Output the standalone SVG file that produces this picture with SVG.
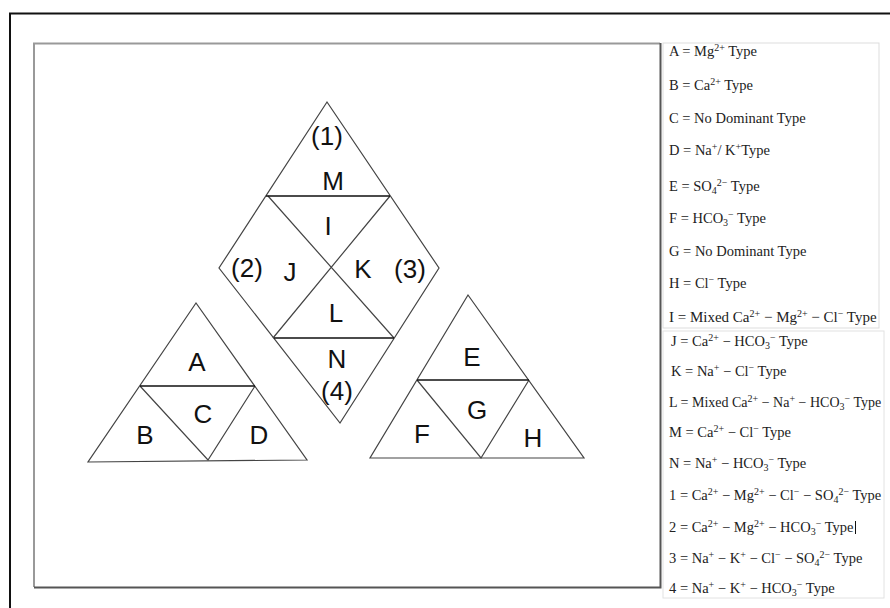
<svg xmlns="http://www.w3.org/2000/svg" width="890" height="608" viewBox="0 0 890 608">
<style>
.edge{fill:none;stroke:#444;stroke-width:1.2;stroke-linejoin:miter}
.bar{fill:none;stroke:#111;stroke-width:1.6}
.lab{font-family:"Liberation Sans",Arial,sans-serif;font-size:26px;fill:#111;text-anchor:middle}
.lg{font-family:"Liberation Serif","Times New Roman",serif;font-size:14.5px;fill:#222}
.s{font-size:10px}
</style>
<rect x="0" y="0" width="890" height="608" fill="#fff"/>
<g id="frame">
<path d="M10,608 V13.5 H890" fill="none" stroke="#111" stroke-width="2"/>
<path d="M34,587 V43.5 H660" fill="none" stroke="#999" stroke-width="2"/>
<path d="M34,587.5 H660.5 V43" fill="none" stroke="#555" stroke-width="2"/>
</g>
<g id="diamond">
<path class="edge" d="M327,102 L219,268 L340,423 L439,268 Z"/>
<path class="edge" d="M268,196 L394,338 M390,196 L273,338"/>
<path class="bar" d="M266,196 H390 M274,338 H394"/>
<text class="lab" x="327" y="145">(1)</text>
<text class="lab" x="333" y="190">M</text>
<text class="lab" x="328" y="235">I</text>
<text class="lab" x="247" y="277">(2)</text>
<text class="lab" x="290" y="281">J</text>
<text class="lab" x="363" y="278">K</text>
<text class="lab" x="410" y="278">(3)</text>
<text class="lab" x="336" y="322">L</text>
<text class="lab" x="337" y="368">N</text>
<text class="lab" x="337" y="400">(4)</text>
</g>
<g id="triangle-left">
<path class="edge" d="M196,303 L88,462 L307,460 Z"/>
<path class="edge" d="M140,386 L208,460 L255,386"/>
<path class="bar" d="M140,386 H255" stroke="#333"/>
<text class="lab" x="197" y="371">A</text>
<text class="lab" x="203" y="423">C</text>
<text class="lab" x="145" y="444">B</text>
<text class="lab" x="259" y="444">D</text>
</g>
<g id="triangle-right">
<path class="edge" d="M468,295 L370,458 L584,458 Z"/>
<path class="edge" d="M417,380 L481,458 L529,380"/>
<path class="bar" d="M417,380 H529"/>
<text class="lab" x="472" y="366">E</text>
<text class="lab" x="477" y="419">G</text>
<text class="lab" x="422" y="443">F</text>
<text class="lab" x="533" y="447">H</text>
</g>
<g id="legend">
<rect x="663" y="43" width="216" height="285" fill="none" stroke="#ddd" stroke-width="1"/>
<rect x="663" y="331" width="221" height="267" fill="none" stroke="#e2e2e2" stroke-width="1"/>
<text class="lg" x="669" y="56">A = Mg<tspan class="s" dy="-5">2+</tspan><tspan dy="5"> Type</tspan></text>
<text class="lg" x="669" y="90">B = Ca<tspan class="s" dy="-5">2+</tspan><tspan dy="5"> Type</tspan></text>
<text class="lg" x="669" y="123">C = No Dominant Type</text>
<text class="lg" x="669" y="155">D = Na<tspan class="s" dy="-5">+</tspan><tspan dy="5">/ K</tspan><tspan class="s" dy="-5">+</tspan><tspan dy="5">Type</tspan></text>
<text class="lg" x="669" y="191">E = SO<tspan class="s" dy="3">4</tspan><tspan class="s" dy="-8">2−</tspan><tspan dy="5"> Type</tspan></text>
<text class="lg" x="669" y="223">F = HCO<tspan class="s" dy="3">3</tspan><tspan class="s" dy="-8">−</tspan><tspan dy="5"> Type</tspan></text>
<text class="lg" x="669" y="256">G = No Dominant Type</text>
<text class="lg" x="669" y="288">H = Cl<tspan class="s" dy="-5">−</tspan><tspan dy="5"> Type</tspan></text>
<text class="lg" x="669" y="322" style="font-size:15px">I = Mixed Ca<tspan class="s" dy="-5">2+</tspan><tspan dy="5"> − Mg</tspan><tspan class="s" dy="-5">2+</tspan><tspan dy="5"> − Cl</tspan><tspan class="s" dy="-5">−</tspan><tspan dy="5"> Type</tspan></text>
<text class="lg" x="671" y="346">J = Ca<tspan class="s" dy="-5">2+</tspan><tspan dy="5"> − HCO</tspan><tspan class="s" dy="3">3</tspan><tspan class="s" dy="-8">−</tspan><tspan dy="5"> Type</tspan></text>
<text class="lg" x="671" y="376">K = Na<tspan class="s" dy="-5">+</tspan><tspan dy="5"> − Cl</tspan><tspan class="s" dy="-5">−</tspan><tspan dy="5"> Type</tspan></text>
<text class="lg" x="669" y="407" style="font-size:14px">L = Mixed Ca<tspan class="s" dy="-5">2+</tspan><tspan dy="5"> − Na</tspan><tspan class="s" dy="-5">+</tspan><tspan dy="5"> − HCO</tspan><tspan class="s" dy="3">3</tspan><tspan class="s" dy="-8">−</tspan><tspan dy="5"> Type</tspan></text>
<text class="lg" x="669" y="437">M = Ca<tspan class="s" dy="-5">2+</tspan><tspan dy="5"> − Cl</tspan><tspan class="s" dy="-5">−</tspan><tspan dy="5"> Type</tspan></text>
<text class="lg" x="669" y="468">N = Na<tspan class="s" dy="-5">+</tspan><tspan dy="5"> − HCO</tspan><tspan class="s" dy="3">3</tspan><tspan class="s" dy="-8">−</tspan><tspan dy="5"> Type</tspan></text>
<text class="lg" x="669" y="500">1 = Ca<tspan class="s" dy="-5">2+</tspan><tspan dy="5"> − Mg</tspan><tspan class="s" dy="-5">2+</tspan><tspan dy="5"> − Cl</tspan><tspan class="s" dy="-5">−</tspan><tspan dy="5"> − SO</tspan><tspan class="s" dy="3">4</tspan><tspan class="s" dy="-8">2−</tspan><tspan dy="5"> Type</tspan></text>
<text class="lg" x="669" y="532">2 = Ca<tspan class="s" dy="-5">2+</tspan><tspan dy="5"> − Mg</tspan><tspan class="s" dy="-5">2+</tspan><tspan dy="5"> − HCO</tspan><tspan class="s" dy="3">3</tspan><tspan class="s" dy="-8">−</tspan><tspan dy="5"> Type</tspan></text>
<line x1="855.5" y1="521" x2="855.5" y2="534" stroke="#111" stroke-width="1"/>
<text class="lg" x="669" y="563">3 = Na<tspan class="s" dy="-5">+</tspan><tspan dy="5"> − K</tspan><tspan class="s" dy="-5">+</tspan><tspan dy="5"> − Cl</tspan><tspan class="s" dy="-5">−</tspan><tspan dy="5"> − SO</tspan><tspan class="s" dy="3">4</tspan><tspan class="s" dy="-8">2−</tspan><tspan dy="5"> Type</tspan></text>
<text class="lg" x="669" y="593">4 = Na<tspan class="s" dy="-5">+</tspan><tspan dy="5"> − K</tspan><tspan class="s" dy="-5">+</tspan><tspan dy="5"> − HCO</tspan><tspan class="s" dy="3">3</tspan><tspan class="s" dy="-8">−</tspan><tspan dy="5"> Type</tspan></text>
</g>
</svg>
